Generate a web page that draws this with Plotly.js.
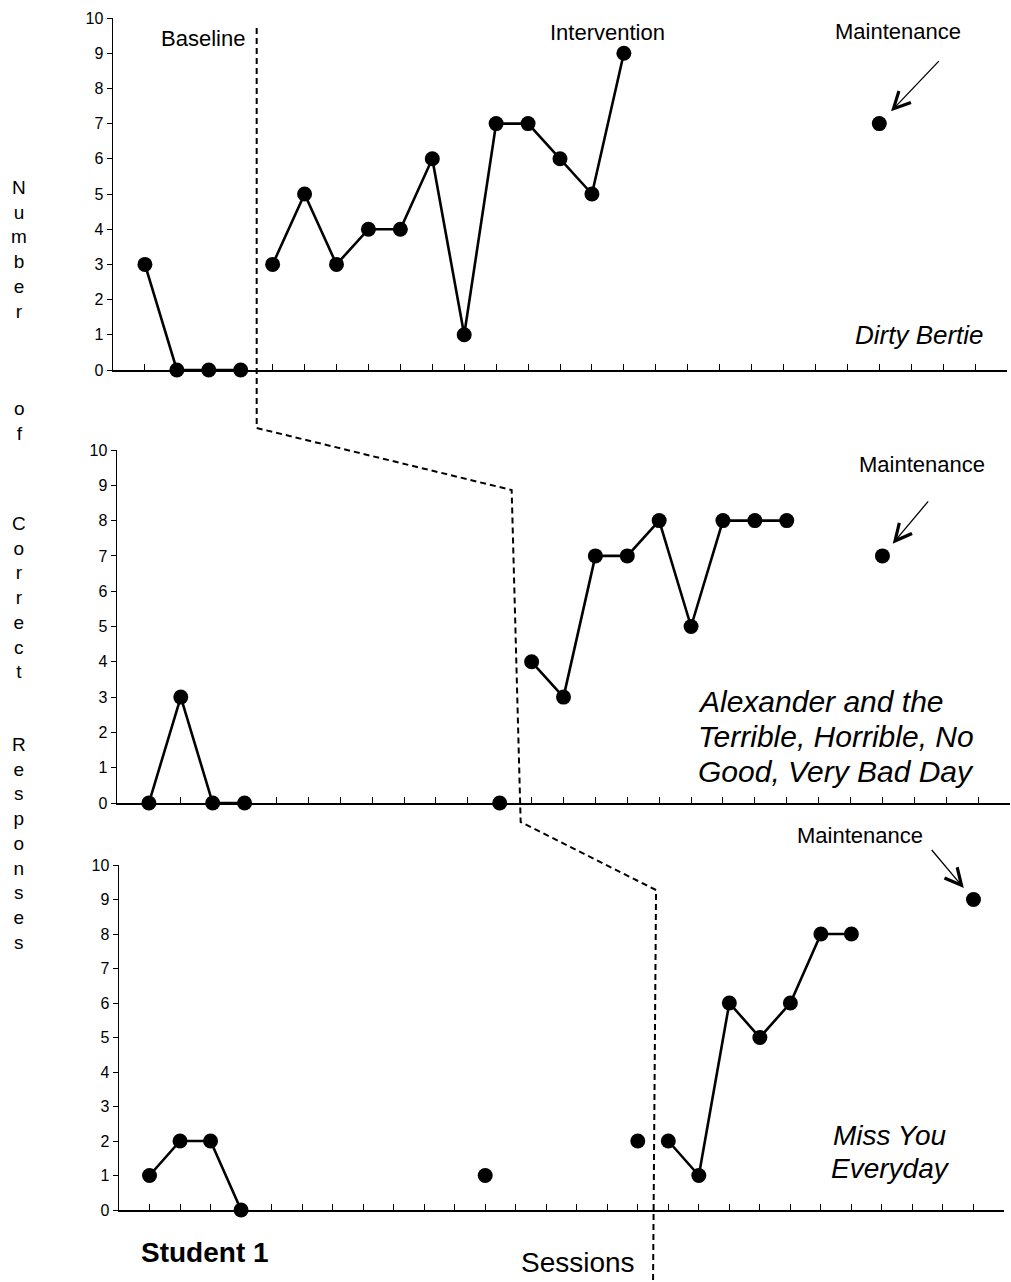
<!DOCTYPE html>
<html><head><meta charset="utf-8">
<script src="https://cdn.plot.ly/plotly-3.0.1.min.js"></script>
<style>html,body{margin:0;padding:0;background:#fff}#chart{width:1011px;height:1282px}</style>
</head><body><div id="chart"></div>
<script>
// ---------- data ----------
const p1BaseX = [1, 2, 3, 4];
const p1BaseY = [3, 0, 0, 0];
const p1IntX = [5, 6, 7, 8, 9, 10, 11, 12, 13, 14, 15, 16];
const p1IntY = [3, 5, 3, 4, 4, 6, 1, 7, 7, 6, 5, 9];
const p1MaintX = [24];
const p1MaintY = [7];

const p2BaseX = [1, 2, 3, 4];
const p2BaseY = [0, 3, 0, 0];
const p2ProbeX = [12];
const p2ProbeY = [0];
const p2IntX = [13, 14, 15, 16, 17, 18, 19, 20, 21];
const p2IntY = [4, 3, 7, 7, 8, 5, 8, 8, 8];
const p2MaintX = [24];
const p2MaintY = [7];

const p3BaseX = [1, 2, 3, 4];
const p3BaseY = [1, 2, 2, 0];
const p3ProbeX = [12, 17];
const p3ProbeY = [1, 2];
const p3IntX = [18, 19, 20, 21, 22, 23, 24];
const p3IntY = [2, 1, 6, 5, 6, 8, 8];
const p3MaintX = [28];
const p3MaintY = [9];

const phaseChange = [4.5, 12.5, 17.5];
const sessionMax = [28, 28, 29];
const yTickVals = [0, 1, 2, 3, 4, 5, 6, 7, 8, 9, 10];
const bookTitle1 = ['Dirty Bertie'];
const bookTitle2 = ['Alexander and the', 'Terrible, Horrible, No', 'Good, Very Bad Day'];
const bookTitle3 = ['Miss You', 'Everyday'];
const phaseLabels = ['Baseline', 'Intervention', 'Maintenance'];
const yTitleWords = ['Number', 'of', 'Correct', 'Responses'];

// ---------- layout geometry (pixels) ----------
const W = 1011, H = 1282;
const FONT = 'Liberation Sans, Arial, sans-serif';
const panels = [
  {x0: 113, x1: 1007, top: 18, bot: 370},
  {x0: 117, x1: 1010, top: 450, bot: 803},
  {x0: 119, x1: 1004, top: 865, bot: 1210}
];
const px = v => v / W;
const py = v => 1 - v / H;
const xPix = (i, x) => panels[i].x0 + x / sessionMax[i] * (panels[i].x1 - panels[i].x0);

const lineStyle = {color: '#000', width: 2.6};
const mk = {color: '#000', size: 15};
function tr(x, y, i, lines) {
  return {
    x: x, y: y, type: 'scatter', mode: lines ? 'lines+markers' : 'markers',
    line: lineStyle, marker: mk, cliponaxis: false, showlegend: false,
    xaxis: i === 0 ? 'x' : 'x' + (i + 1), yaxis: i === 0 ? 'y' : 'y' + (i + 1),
    hoverinfo: 'x+y'
  };
}
const data = [
  tr(p1BaseX, p1BaseY, 0, true), tr(p1IntX, p1IntY, 0, true), tr(p1MaintX, p1MaintY, 0, false),
  tr(p2BaseX, p2BaseY, 1, true), tr(p2ProbeX, p2ProbeY, 1, false), tr(p2IntX, p2IntY, 1, true), tr(p2MaintX, p2MaintY, 1, false),
  tr(p3BaseX, p3BaseY, 2, true), tr(p3ProbeX, p3ProbeY, 2, false), tr(p3IntX, p3IntY, 2, true), tr(p3MaintX, p3MaintY, 2, false)
];

const layout = {
  width: W, height: H,
  margin: {l: 0, r: 0, t: 0, b: 0, pad: 0},
  paper_bgcolor: '#fff', plot_bgcolor: 'rgba(0,0,0,0)',
  font: {family: FONT, color: '#000', size: 16},
  showlegend: false,
  annotations: [], shapes: []
};

panels.forEach((p, i) => {
  const s = i === 0 ? '' : String(i + 1);
  layout['xaxis' + s] = {
    domain: [px(p.x0), px(p.x1)], range: [0, sessionMax[i]], anchor: 'y' + s,
    showgrid: false, zeroline: false, showline: true, linecolor: '#000', linewidth: 1.5,
    ticks: 'inside', ticklen: 6, tickwidth: 1, tickcolor: '#000',
    tickmode: 'linear', tick0: 0, dtick: 1, showticklabels: false, fixedrange: true
  };
  layout['yaxis' + s] = {
    domain: [py(p.bot), py(p.top)], range: [0, 10], anchor: 'x' + s,
    showgrid: false, zeroline: false, showline: true, linecolor: '#000', linewidth: 1.5,
    ticks: 'outside', ticklen: 5, tickwidth: 1, tickcolor: '#000',
    tickmode: 'array', tickvals: yTickVals, ticktext: yTickVals.map(String),
    tickfont: {family: FONT, size: 16, color: '#000'}, fixedrange: true
  };
});

// phase change dashed line
const pts = [
  [xPix(0, phaseChange[0]), 28],
  [xPix(0, phaseChange[0]), 428],
  [xPix(1, phaseChange[1]) - 4, 490],
  [xPix(1, phaseChange[1]) + 5, 822],
  [xPix(2, phaseChange[2]) + 3, 890],
  [xPix(2, phaseChange[2]), 1282]
];
layout.shapes.push({
  type: 'path', xref: 'paper', yref: 'paper', layer: 'above',
  path: pts.map((q, k) => (k ? 'L' : 'M') + px(q[0]).toFixed(5) + ',' + py(q[1]).toFixed(5)).join(' '),
  line: {color: '#000', width: 2, dash: '6px,4px'}
});

function txt(t, x, y, opts) {
  layout.annotations.push(Object.assign({
    text: t, xref: 'paper', yref: 'paper', x: px(x), y: py(y),
    xanchor: 'center', yanchor: 'middle', showarrow: false,
    font: {family: FONT, size: 18, color: '#000'}
  }, opts || {}));
}
const f = (s, extra) => Object.assign({family: FONT, size: s, color: '#000'}, extra || {});
txt(phaseLabels[0], 203, 38, {font: f(22)});
txt(phaseLabels[1], 607, 33, {font: f(22)});
txt(phaseLabels[2], 898, 31, {font: f(22)});
txt(phaseLabels[2], 922, 465, {font: f(22)});
txt(phaseLabels[2], 860, 836, {font: f(22)});

txt(bookTitle1[0], 986, 335, {xanchor: 'right', font: f(26, {style: 'italic'})});
bookTitle2.forEach((t, k) => txt(t, 696, 701 + 35 * k, {xanchor: 'left', font: f(30, {style: 'italic'})}));
bookTitle3.forEach((t, k) => txt(t, 890, 1135 + 33 * k, {font: f(28, {style: 'italic'})}));

txt('<b>Student 1</b>', 205, 1252, {font: f(28)});
txt('Sessions', 578, 1262, {font: f(28)});

// stacked y-axis title letters
const wordCenters = [249, 421, 597, 843];
yTitleWords.forEach((w, k) => {
  txt(w.split('').join('<br>'), 19, wordCenters[k], {font: f(19)});
});

// maintenance arrows
function arrow(i, x, y, ax, ay, so) {
  const s = i === 0 ? '' : String(i + 1);
  layout.annotations.push({
    text: '', xref: 'x' + s, yref: 'y' + s, x: x, y: y, ax: ax, ay: ay,
    showarrow: true, arrowhead: 5, arrowsize: 2.5, arrowwidth: 1.3, arrowcolor: '#000', standoff: so
  });
}
arrow(0, p1MaintX[0], p1MaintY[0], 61, -64, 17);
arrow(1, p2MaintX[0], p2MaintY[0], 47, -56, 16);
arrow(2, p3MaintX[0], p3MaintY[0], -43, -51, 15);

Plotly.newPlot('chart', data, layout, {staticPlot: true, displayModeBar: false});
</script></body></html>
